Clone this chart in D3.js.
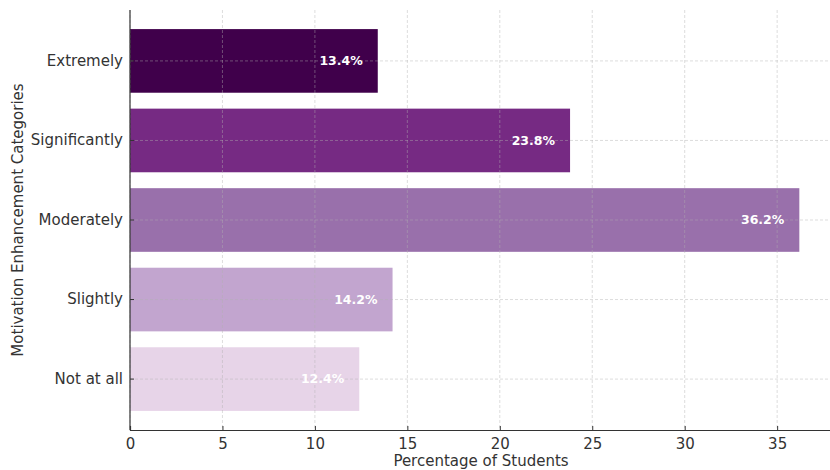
<!DOCTYPE html>
<html>
<head>
<meta charset="utf-8">
<script src="https://cdn.jsdelivr.net/npm/d3@7"></script>
<style>
  body { margin: 0; background: #fff; }
  svg, svg text { font-family: "DejaVu Sans", sans-serif; }
</style>
</head>
<body>
<svg width="830" height="470"></svg>
<script>
const width = 830, height = 470;
const marginTop = 10;
const marginBottom = 40;
const marginLeft = 130;

const categories = ["Extremely", "Significantly", "Moderately", "Slightly", "Not at all"];
const percentages = [13.4, 23.8, 36.2, 14.2, 12.4];
const colors = ["#40004b", "#762a83", "#9970ab", "#c2a5cf", "#e7d4e8"];
const xTicks = [0, 5, 10, 15, 20, 25, 30, 35];

const svg = d3.select("svg");

// Scales
const xScale = d3.scaleLinear()
    .domain([0, 38.01])
    .range([marginLeft, 832.8]);

const yScale = d3.scaleBand()
    .domain(categories)
    .range([marginTop, height - marginBottom])
    .paddingInner(0.2)
    .paddingOuter(0.24);

// Bars
svg.append("g")
    .selectAll("rect")
    .data(categories)
    .join("rect")
    .attr("x", xScale(0))
    .attr("y", d => yScale(d))
    .attr("width", (d, i) => xScale(percentages[i]) - xScale(0))
    .attr("height", yScale.bandwidth())
    .attr("fill", (d, i) => colors[i]);

// Grid (drawn over bars, light and dashed)
const grid = svg.append("g")
    .attr("stroke", "#b0b0b0")
    .attr("stroke-opacity", 0.55)
    .attr("stroke-dasharray", "3,2")
    .attr("stroke-width", 0.8);

xTicks.forEach(t => {
    grid.append("line")
        .attr("x1", xScale(t)).attr("x2", xScale(t))
        .attr("y1", marginTop).attr("y2", height - marginBottom);
});
categories.forEach(c => {
    const yc = yScale(c) + yScale.bandwidth() / 2;
    grid.append("line")
        .attr("x1", marginLeft).attr("x2", width)
        .attr("y1", yc).attr("y2", yc);
});

// Value labels
svg.append("g")
    .selectAll("text")
    .data(categories)
    .join("text")
    .attr("x", (d, i) => xScale(percentages[i]) - 15)
    .attr("y", d => yScale(d) + yScale.bandwidth() / 2)
    .attr("dy", "0.35em")
    .attr("text-anchor", "end")
    .attr("fill", "white")
    .style("font-size", "12.5px")
    .style("font-weight", "bold")
    .text((d, i) => percentages[i].toFixed(1) + "%");

// Axes
const xAxis = d3.axisBottom(xScale)
    .tickValues(xTicks)
    .tickSize(-4)
    .tickPadding(8);

const gx = svg.append("g")
    .attr("transform", `translate(0, ${height - marginBottom})`)
    .call(xAxis)
    .attr("font-family", "DejaVu Sans");
gx.select(".domain").attr("stroke", "#333").attr("stroke-width", 1.2);
gx.selectAll(".tick line").attr("stroke", "#333");
gx.selectAll(".tick text").attr("fill", "#333").style("font-size", "15px");

const yAxis = d3.axisLeft(yScale)
    .tickSize(-4)
    .tickPadding(7);

const gy = svg.append("g")
    .attr("transform", `translate(${marginLeft}, 0)`)
    .call(yAxis)
    .attr("font-family", "DejaVu Sans");
gy.select(".domain").attr("d", `M0,${marginTop}V${height - marginBottom}`)
    .attr("stroke", "#333").attr("stroke-width", 1.2);
gy.selectAll(".tick line").attr("stroke", "#333");
gy.selectAll(".tick text").attr("fill", "#333").style("font-size", "15px");

// Axis labels
svg.append("text")
    .attr("x", 481)
    .attr("y", 466)
    .attr("text-anchor", "middle")
    .style("fill", "#333")
    .style("font-size", "15px")
    .text("Percentage of Students");

svg.append("text")
    .attr("transform", "rotate(-90)")
    .attr("x", -(marginTop + height - marginBottom) / 2)
    .attr("y", 23)
    .attr("text-anchor", "middle")
    .style("fill", "#333")
    .style("font-size", "15px")
    .text("Motivation Enhancement Categories");
</script>
</body>
</html>
